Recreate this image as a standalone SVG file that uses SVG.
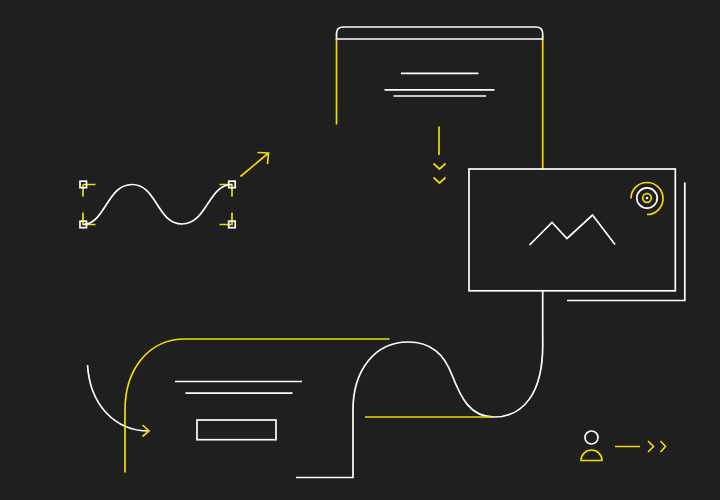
<svg xmlns="http://www.w3.org/2000/svg" width="720" height="500" viewBox="0 0 720 500">
<style>
.w{fill:none;stroke:#fff;stroke-width:1.7}
.y{fill:none;stroke:#f2db00;stroke-width:1.7}
</style>
<rect width="720" height="500" fill="#1f1f1f"/>
<g id="connectors">
<path class="y" d="M336.500 39V124.500"/>
<path class="y" d="M542.700 39V169"/>
<path class="y" d="M439 126.500V155"/>
<path class="y" d="M433.500 163.500L439.500 169L445.500 163.500M433.500 177.500L439.500 183L445.500 177.500"/>
<path class="w" d="M542.700 291V340C544 395 522 417 494 417C470 417 461 398 452 375C444 354 431 342 408 342C375 342 353 370 353 410V477.500H296"/>
<path class="y" d="M365 417H492"/>
<path class="y" d="M389.500 339H185C148 339 125 370 125 410V472.500"/>
<path class="w" d="M87.500 365C90 405 115 431 149 431"/>
<path class="y" d="M142.500 425L149 431L142.500 436.500"/>
<path class="w" d="M567 300.500H684.800V182.500"/>
<path class="y" d="M240.500 176.500L268.500 153M257.500 152.500L268.500 153L267.500 164"/>
</g>
<g id="browser-window">
<path class="w" d="M336.500 39V33.500Q336.500 27 343.500 27H535.700Q542.700 27 542.700 33.500V39Z"/>
<path class="w" d="M401 73.300H478.500M384.500 89.800H494.500M393.500 96H486"/>
</g>
<g id="curve-editor">
<path class="y" d="M83 184.500H95.500M83 184.500V196.500M83 212.500V224.500H95.500M219.500 184.500H232V196.500M232 212.500V224.500H219.500"/>
<rect class="w" x="80" y="181.200" width="6.500" height="6.500"/>
<rect class="w" x="80" y="221.200" width="6.500" height="6.500"/>
<rect class="w" x="228.700" y="181.200" width="6.500" height="6.500"/>
<rect class="w" x="228.700" y="221.200" width="6.500" height="6.500"/>
<path class="w" d="M83 224.500C105 224.500 107 184.500 132 184.500C157 184.500 157 224 182 224C207 224 208 184.500 232 184.500"/>
</g>
<g id="image-card">
<rect class="w" x="469" y="169" width="206.300" height="121.800"/>
<path class="w" d="M529.500 245L552 222.500L567 238.500L592.500 215L615 244.500"/>
<path class="y" d="M631 198.500A16 16 0 1 1 647 214.500"/>
<circle class="w" cx="647" cy="198" r="10.200"/>
<circle class="y" cx="647" cy="198" r="4.300"/>
<circle cx="647" cy="198" r="1.300" fill="#fff"/>
</g>
<g id="text-card">
<path class="w" d="M175 381.500H302M185.500 393.200H292.500"/>
<rect class="w" x="197" y="420" width="79" height="19.700"/>
</g>
<g id="user">
<circle class="w" cx="591.500" cy="437.500" r="6.500"/>
<path class="y" d="M581 460.500A10.500 10.500 0 0 1 602 460.500Z"/>
<path class="y" d="M615 446.500H640M648 441L653.500 446.500L648 452M660.500 441L665.500 446.500L660.500 452"/>
</g>
</svg>
